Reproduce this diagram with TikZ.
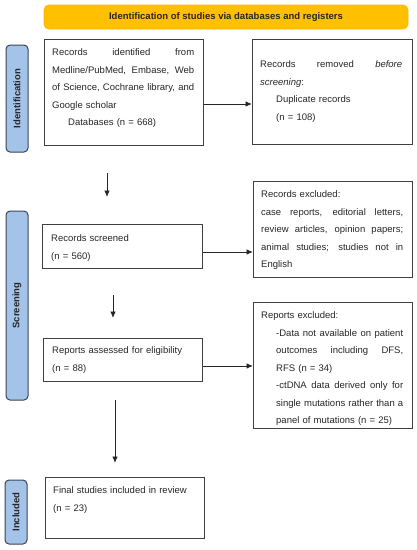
\documentclass[tikz,border=0pt]{standalone}
\usepackage{fontspec}
\setmainfont{Liberation Sans}
\usetikzlibrary{arrows.meta}
\definecolor{bannerfill}{HTML}{FFC000}
\definecolor{sidefill}{HTML}{A4C3E8}
\definecolor{sideline}{HTML}{3A4654}
\definecolor{boxline}{HTML}{404040}
\tikzset{
  box/.style={draw=boxline, line width=1pt},
  side/.style={draw=sideline, fill=sidefill, rounded corners=4pt, line width=1pt},
  sidelabel/.style={rotate=90, font=\fontsize{9.5}{11}\selectfont\bfseries, text=black!85},
  txt/.style={anchor=base west, inner sep=0pt, align=left, font=\fontsize{9.5}{17.5}\selectfont, text=black!85},
  arr/.style={draw=black!85, line width=0.9pt, -{Latex[length=6.5pt,width=5.5pt]}},
}
\newcommand{\jl}[2]{\leavevmode\hbox to #1{\spaceskip=0.28em plus 1fil\xspaceskip=0.28em plus 1fil\relax #2}}
\begin{document}
\begin{tikzpicture}[x=1pt,y=-1pt]
\useasboundingbox (0,0) rectangle (417,550);
% banner
\draw[draw=bannerfill!85!orange, fill=bannerfill, rounded corners=5pt, line width=0.8pt] (44,5) rectangle (408,29);
\node[font=\fontsize{9.5}{11}\selectfont\bfseries, text=black!85] (banner) at (226,17) {Identification of studies via databases and registers};
% side bars
\draw[side] (6,45) rectangle (28,152);
\node[sidelabel] (sid) at (17,98.5) {Identification};
\draw[side] (6,211) rectangle (28,400);
\node[sidelabel] (sscr) at (17,305.5) {Screening};
\draw[side] (5,480) rectangle (27,544);
\node[sidelabel] (sinc) at (16,512) {Included};
% boxes
\node[box, minimum width=159pt, minimum height=106pt, anchor=north west, inner sep=0pt] (b1) at (44,39) {};
\node[box, minimum width=160pt, minimum height=105pt, anchor=north west, inner sep=0pt] (b2) at (252,39) {};
\node[box, minimum width=160pt, minimum height=44pt, anchor=north west, inner sep=0pt] (b3) at (42,224) {};
\node[box, minimum width=159pt, minimum height=96pt, anchor=north west, inner sep=0pt] (b4) at (253,181) {};
\node[box, minimum width=159pt, minimum height=43pt, anchor=north west, inner sep=0pt] (b5) at (43,338) {};
\node[box, minimum width=159pt, minimum height=126pt, anchor=north west, inner sep=0pt] (b6) at (253,302) {};
\node[box, minimum width=159pt, minimum height=61pt, anchor=north west, inner sep=0pt] (b7) at (45,477) {};
% texts
\node[txt, text width=142pt] (t1) at (52,55.5) {\jl{142pt}{Records identified from}\\
\jl{142pt}{Medline/PubMed, Embase, Web}\\
\jl{142pt}{of Science, Cochrane library, and}\\
Google scholar\\
\hspace*{16pt}Databases (n = 668)};
\node[txt, text width=142pt] (t2) at (260,67.5) {\jl{142pt}{Records removed \textit{before}}\\
\textit{screening}:\\
\hspace*{16pt}Duplicate records\\
\hspace*{16pt}(n = 108)};
\node[txt, text width=142pt] (t3) at (51,241.5) {Records screened\\(n = 560)};
\node[txt, text width=142pt] (t4) at (261,197.5) {Records excluded:\\
\jl{142pt}{case reports, editorial letters,}\\
\jl{142pt}{review articles, opinion papers;}\\
\jl{142pt}{animal studies; studies not in}\\
English};
\node[txt, text width=142pt] (t5) at (52,353.5) {Reports assessed for eligibility\\(n = 88)};
\node[txt, text width=142pt] (t6) at (261,318.5) {Reports excluded:\\
\hspace*{15pt}\jl{127pt}{-Data not available on patient}\\
\hspace*{15pt}\jl{127pt}{outcomes including DFS,}\\
\hspace*{15pt}RFS (n = 34)\\
\hspace*{15pt}\jl{127pt}{-ctDNA data derived only for}\\
\hspace*{15pt}\jl{127pt}{single mutations rather than a}\\
\hspace*{15pt}panel of mutations (n = 25)};
\node[txt, text width=142pt] (t7) at (53,493.5) {Final studies included in review\\(n = 23)};
% connectors
\coordinate (d1a) at (107,173);
\coordinate (d1b) at (107,197);
\draw[arr] (d1a) -- (d1b);
\coordinate (d2a) at (113,295);
\coordinate (d2b) at (113,318);
\draw[arr] (d2a) -- (d2b);
\coordinate (d3a) at (115,400);
\coordinate (d3b) at (115,463);
\draw[arr] (d3a) -- (d3b);
\draw[arr] (b1.east |- 0,104) -- (b2.west |- 0,104);
\draw[arr] (b3.east |- 0,252) -- (b4.west |- 0,252);
\draw[arr] (b5.east |- 0,366) -- (b6.west |- 0,366);
\end{tikzpicture}
\end{document}
